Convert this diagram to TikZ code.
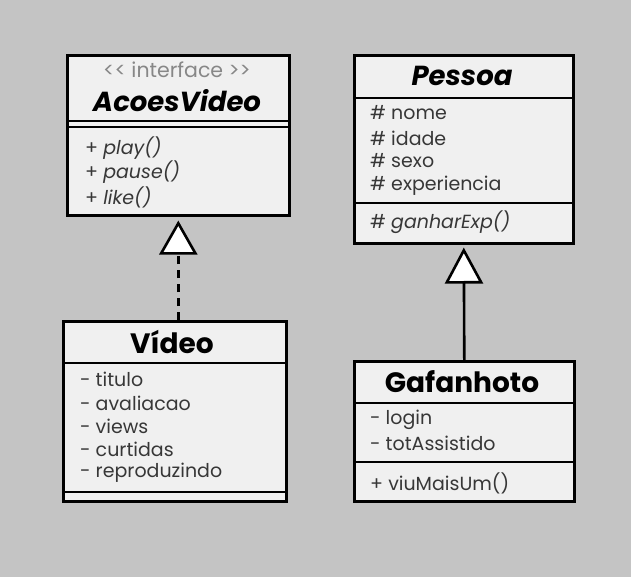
\documentclass[tikz,border=0pt]{standalone}
\usepackage{fontspec}
\setmainfont{Poppins}
\usetikzlibrary{arrows.meta}
\usetikzlibrary{calc}
\definecolor{bgGray}{RGB}{196,196,196}
\definecolor{boxFill}{RGB}{240,240,240}
\definecolor{memberText}{RGB}{55,55,55}
\definecolor{stereoText}{RGB}{135,135,135}
\tikzset{
  classbox/.style={draw=black, fill=boxFill, line width=2.6pt, anchor=north west, inner sep=0pt},
  classtitle/.style={font=\fontsize{28}{28}\selectfont\bfseries, inner sep=0pt},
  member/.style={font=\fontsize{19}{19}\selectfont, text=memberText, anchor=west, inner sep=0pt},
  divider/.style={line width=2.6pt},
  realize/.style={line width=2.6pt, dash pattern=on 8pt off 6pt, -{Triangle[length=34pt,width=38pt,fill=white]}},
  inherit/.style={line width=2.6pt, -{Triangle[length=36pt,width=38pt,fill=white]}}
}

\begin{document}
\begin{tikzpicture}[x=1pt,y=-1pt]
\fill[bgGray] (0,0) rectangle (631,577);
\useasboundingbox (0,0) rectangle (631,577);
% class boxes
\node[classbox, minimum width=222pt, minimum height=160pt] (acoes) at (66,54) {};
\node[classbox, minimum width=219pt, minimum height=188pt] (pessoa) at (353,54) {};
\node[classbox, minimum width=223pt, minimum height=180pt] (video) at (62,320) {};
\node[classbox, minimum width=220pt, minimum height=140pt] (gafanhoto) at (353,360) {};
% compartments
\draw[divider] (acoes.west |- 0,121) -- (acoes.east |- 0,121) (acoes.west |- 0,127) -- (acoes.east |- 0,127);
\draw[divider] (pessoa.west |- 0,98) -- (pessoa.east |- 0,98) (pessoa.west |- 0,203) -- (pessoa.east |- 0,203);
\draw[divider] (video.west |- 0,363) -- (video.east |- 0,363) (video.west |- 0,492) -- (video.east |- 0,492);
\draw[divider] (gafanhoto.west |- 0,403) -- (gafanhoto.east |- 0,403) (gafanhoto.west |- 0,462) -- (gafanhoto.east |- 0,462);
% titles
\node[font=\fontsize{20.5}{20.5}\selectfont, text=stereoText, inner sep=0pt] (stereo) at (177,70) {<{}< interface >{}>};
\node[classtitle, font=\fontsize{27.5}{27.5}\selectfont\bfseries\itshape] (acoesTitle) at (177,101) {AcoesVideo};
\node[classtitle, font=\fontsize{27.5}{27.5}\selectfont\bfseries\itshape] (pessoaTitle) at (462,76) {Pessoa};
\node[classtitle] (videoTitle) at (172,342) {Vídeo};
\node[classtitle] (gafanhotoTitle) at (462,382) {Gafanhoto};
% members
\node[member] (mPlay) at (85,148) {+ \textit{play()}};
\node[member] (mPause) at (85,172) {+ \textit{pause()}};
\node[member] (mLike) at (85,197) {+ \textit{like()}};
\node[member] (aNome) at (370,113) {\# nome};
\node[member] (aIdade) at (370,138) {\# idade};
\node[member] (aSexo) at (370,161) {\# sexo};
\node[member] (aExp) at (370,186) {\# experiencia};
\node[member] (mGanhar) at (370,222) {\# \textit{ganharExp()}};
\node[member] (aTitulo) at (80,379) {- titulo};
\node[member] (aAval) at (80,403) {- avaliacao};
\node[member] (aViews) at (80,426) {- views};
\node[member] (aCurt) at (80,449) {- curtidas};
\node[member] (aRepr) at (80,473) {- reproduzindo};
\node[member] (aLogin) at (370,420) {- login};
\node[member] (aTot) at (370,443) {- totAssistido};
\node[member] (mViu) at (370,483) {+ viuMaisUm()};
% relations
\draw[realize] (video.north -| acoes.south) -- ($(acoes.south)+(0,4)$);
\draw[inherit] (gafanhoto.north) -- ($(pessoa.south)+(0,3)$);
\end{tikzpicture}
\end{document}
